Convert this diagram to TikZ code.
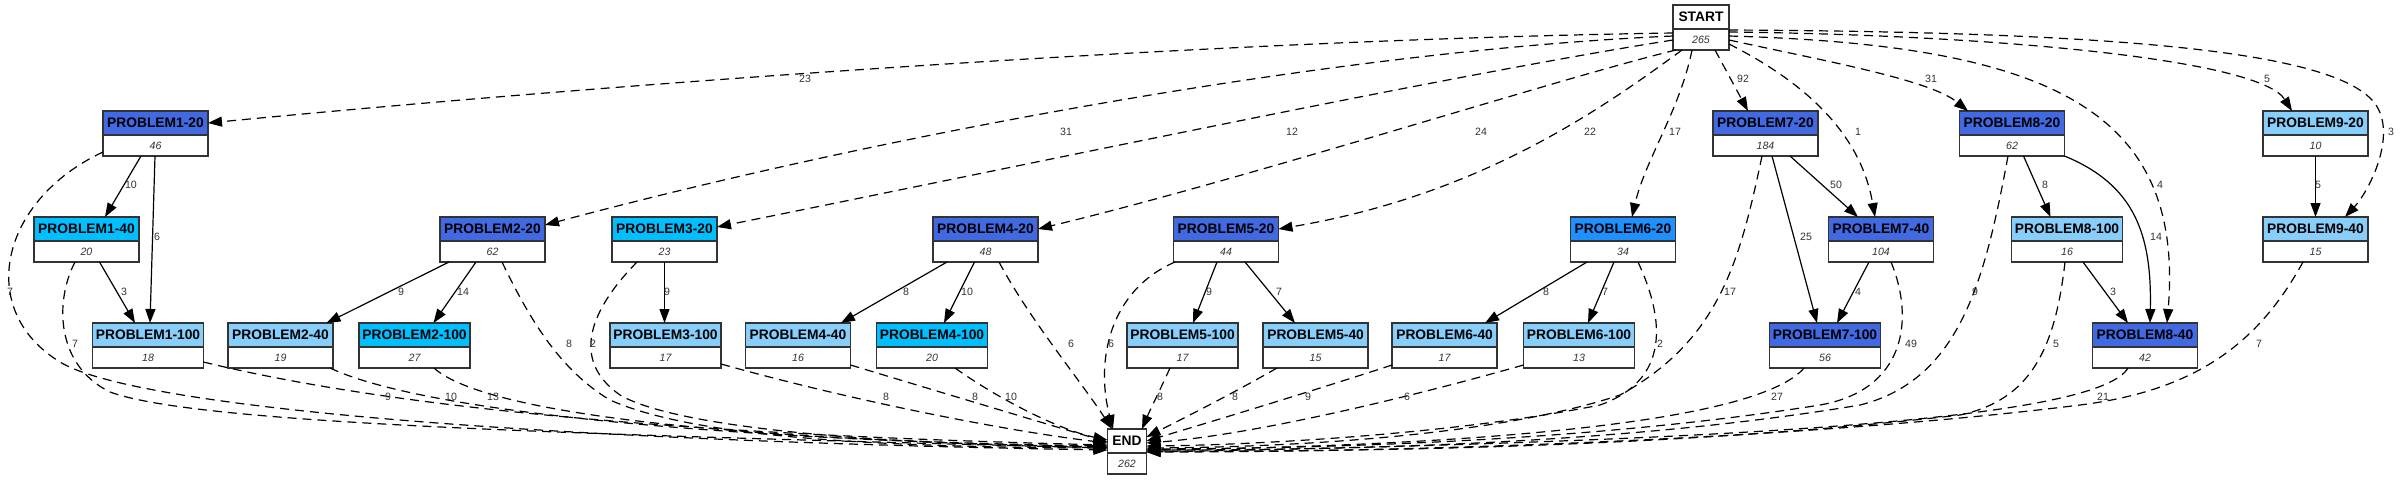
\documentclass[tikz,border=0pt]{standalone}
\usepackage{fontspec}
\setmainfont{Liberation Sans}
\usetikzlibrary{arrows.meta}
\definecolor{rb}{HTML}{4169E1}
\definecolor{dsb}{HTML}{00BFFF}
\definecolor{dgb}{HTML}{1E90FF}
\definecolor{lsb}{HTML}{87CEFA}
\newcommand{\mkbox}[7]{%
  \node[hdr, fill=#5, minimum width=#4, anchor=north] (#1) at (#2,#3) {#6};
  \node[val, minimum width=#4, anchor=north] (#1v) at (#1.south) {#7};
}
\begin{document}
\begin{tikzpicture}[x=0.5pt,y=-0.5pt,
  hdr/.style={draw=black!80, line width=0.75pt, outer sep=0pt, inner sep=0pt, minimum height=12pt,
    font=\bfseries\fontsize{6.9}{8}\selectfont, text height=4.9pt, text depth=0pt},
  val/.style={draw=black!80, line width=0.75pt, outer sep=0pt, inner sep=0pt, fill=white, minimum height=10.5pt,
    font=\itshape\fontsize{5.3}{6}\selectfont, text=black!80, text height=3.8pt, text depth=0pt},
  lbl/.style={font=\fontsize{5.3}{6}\selectfont, text=black!80, inner sep=0pt},
  sedge/.style={line width=0.6pt, -{Triangle[length=7pt,width=5pt]}},
  dedge/.style={sedge, dash pattern=on 4.5pt off 3pt}]
\useasboundingbox (0,0) rectangle (2400,479);
\fill[white] (0,0) rectangle (2400,479);

% boxes
\mkbox{s}{1701}{5}{28pt}{white}{START}{265}
\mkbox{e}{1127}{429}{19.5pt}{white}{END}{262}
\mkbox{p120}{155.5}{111}{52.5pt}{rb}{PROBLEM1-20}{46}
\mkbox{p720}{1765.5}{111}{52.5pt}{rb}{PROBLEM7-20}{184}
\mkbox{p820}{2012}{111}{52.5pt}{rb}{PROBLEM8-20}{62}
\mkbox{p920}{2315.5}{111}{52.5pt}{lsb}{PROBLEM9-20}{10}
\mkbox{p140}{86.5}{217}{52.5pt}{dsb}{PROBLEM1-40}{20}
\mkbox{p220}{492.5}{217}{52.5pt}{rb}{PROBLEM2-20}{62}
\mkbox{p320}{664.5}{217}{52.5pt}{dsb}{PROBLEM3-20}{23}
\mkbox{p420}{985.5}{217}{52.5pt}{rb}{PROBLEM4-20}{48}
\mkbox{p520}{1226}{217}{52.5pt}{rb}{PROBLEM5-20}{44}
\mkbox{p620}{1623}{217}{52.5pt}{dgb}{PROBLEM6-20}{34}
\mkbox{p740}{1881}{217}{52.5pt}{rb}{PROBLEM7-40}{104}
\mkbox{p8100}{2067}{217}{55.5pt}{lsb}{PROBLEM8-100}{16}
\mkbox{p940}{2315.5}{217}{52.5pt}{lsb}{PROBLEM9-40}{15}
\mkbox{p1100}{148}{323}{55.5pt}{lsb}{PROBLEM1-100}{18}
\mkbox{p240}{280.5}{323}{52.5pt}{lsb}{PROBLEM2-40}{19}
\mkbox{p2100}{414.5}{323}{55.5pt}{dsb}{PROBLEM2-100}{27}
\mkbox{p3100}{665.5}{323}{55.5pt}{lsb}{PROBLEM3-100}{17}
\mkbox{p440}{798}{323}{52.5pt}{lsb}{PROBLEM4-40}{16}
\mkbox{p4100}{932}{323}{55.5pt}{dsb}{PROBLEM4-100}{20}
\mkbox{p5100}{1182.6}{323}{55.5pt}{lsb}{PROBLEM5-100}{17}
\mkbox{p540}{1315.6}{323}{52.5pt}{lsb}{PROBLEM5-40}{15}
\mkbox{p640}{1444.6}{323}{52.5pt}{lsb}{PROBLEM6-40}{17}
\mkbox{p6100}{1579}{323}{55.5pt}{lsb}{PROBLEM6-100}{13}
\mkbox{p7100}{1825}{323}{55.5pt}{rb}{PROBLEM7-100}{56}
\mkbox{p840}{2145}{323}{52.5pt}{rb}{PROBLEM8-40}{42}

% START edges
\draw[dedge] (sv.west |- 0,33) .. controls (1200,40) and (600,85) .. (p120.east);
\draw[dedge] (sv.west |- 0,36) .. controls (1350,50) and (900,130) .. ([yshift=2pt]p220.east);
\draw[dedge] (sv.west |- 0,40) .. controls (1450,75) and (1050,160) .. ([yshift=1pt]p320.east);
\draw[dedge] (1676,0 |- sv.south) .. controls (1560,78) and (1250,178) .. (p420.east);
\draw[dedge] (1682,0 |- sv.south) .. controls (1600,110) and (1480,195) .. (p520.east);
\draw[dedge] (1692,0 |- sv.south) .. controls (1680,110) and (1645,160) .. (1632,0 |- p620.north);
\draw[dedge] (1715,0 |- sv.south) -- (1748,0 |- p720.north);
\draw[dedge] (sv.east |- 0,44) .. controls (1800,80) and (1860,130) .. (1875,0 |- p740.north);
\draw[dedge] (sv.east |- 0,40) .. controls (1830,62) and (1930,80) .. (1968,0 |- p820.north);
\draw[dedge] (sv.east |- 0,36) .. controls (2050,45) and (2185,110) .. (2167,0 |- p840.north);
\draw[dedge] (sv.east |- 0,32) .. controls (2000,35) and (2260,60) .. (2292,0 |- p920.north);
\draw[dedge] (sv.east |- 0,30) .. controls (2150,32) and (2330,55) .. (2372,100) .. controls (2400,130) and (2370,190) .. (2345,0 |- p940.north);

% solid edges
\draw[sedge] (141,0 |- p120v.south) -- (105,0 |- p140.north);
\draw[sedge] (155,0 |- p120v.south) -- (150,0 |- p1100.north);
\draw[sedge] (99.5,0 |- p140v.south) -- (135,0 |- p1100.north);
\draw[sedge] (449,0 |- p220v.south) -- (326.5,0 |- p240.north);
\draw[sedge] (476,0 |- p220v.south) -- (433.5,0 |- p2100.north);
\draw[sedge] (664.5,0 |- p320v.south) -- (664.5,0 |- p3100.north);
\draw[sedge] (947,0 |- p420v.south) -- (841,0 |- p440.north);
\draw[sedge] (974.5,0 |- p420v.south) -- (944,0 |- p4100.north);
\draw[sedge] (1217,0 |- p520v.south) -- (1193,0 |- p5100.north);
\draw[sedge] (1245,0 |- p520v.south) -- (1295,0 |- p540.north);
\draw[sedge] (1587,0 |- p620v.south) -- (1485,0 |- p640.north);
\draw[sedge] (1614,0 |- p620v.south) -- (1588,0 |- p6100.north);
\draw[sedge] (1790,0 |- p720v.south) -- (1858,0 |- p740.north);
\draw[sedge] (1772,0 |- p720v.south) -- (1817,0 |- p7100.north);
\draw[sedge] (1869,0 |- p740v.south) -- (1837,0 |- p7100.north);
\draw[sedge] (2023.5,0 |- p820v.south) -- (2050.5,0 |- p8100.north);
\draw[sedge] (p820v.south east) .. controls (2135,185) and (2152,235) .. (2150,0 |- p840.north);
\draw[sedge] (2083,0 |- p8100v.south) -- (2128,0 |- p840.north);
\draw[sedge] (p920v.south) -- (p940.north);

% edges to END
\draw[dedge] (p120v.west |- 0,152) .. controls (0,200) and (-25,310) .. (60,362) .. controls (130,405) and (500,440) .. (ev.west |- 0,450);
\draw[dedge] (75,0 |- p140v.south) .. controls (55,300) and (55,365) .. (110,392) .. controls (200,425) and (600,435) .. (ev.west |- 0,448);
\draw[dedge] (p1100v.east |- 0,362) .. controls (400,410) and (700,435) .. (ev.west |- 0,445);
\draw[dedge] (330,0 |- p240v.south) .. controls (430,415) and (750,440) .. (ev.west |- 0,447);
\draw[dedge] (434,0 |- p2100v.south) .. controls (480,410) and (700,440) .. (ev.west |- 0,446);
\draw[dedge] (502,0 |- p220v.south) .. controls (530,320) and (560,370) .. (610,400) .. controls (700,440) and (900,447) .. (ev.west |- 0,448);
\draw[dedge] (637,0 |- p320v.south) .. controls (590,310) and (570,360) .. (620,395) .. controls (680,430) and (900,445) .. (ev.west |- 0,447);
\draw[dedge] (p3100v.east |- 0,364) .. controls (850,400) and (1000,430) .. (ev.west |- 0,443);
\draw[dedge] (p440v.east |- 0,365) .. controls (950,395) and (1050,425) .. (ev.west |- 0,442);
\draw[dedge] (955,0 |- p4100v.south) .. controls (1000,400) and (1060,430) .. (ev.west |- 0,440);
\draw[dedge] (999,0 |- p420v.south) .. controls (1030,320) and (1080,380) .. (1112,0 |- e.north);
\draw[dedge] (1175,0 |- p520v.south) .. controls (1110,290) and (1095,360) .. (1113,0 |- e.north);
\draw[dedge] (1170,0 |- p5100v.south) .. controls (1160,390) and (1150,410) .. (1142,0 |- e.north);
\draw[dedge] (1277,0 |- p540v.south) .. controls (1230,395) and (1180,420) .. (ev.east |- 0,437);
\draw[dedge] (p640v.west |- 0,365) .. controls (1300,395) and (1200,425) .. (ev.east |- 0,441);
\draw[dedge] (p6100v.west |- 0,365) .. controls (1400,400) and (1250,435) .. (ev.east |- 0,443);
\draw[dedge] (1638,0 |- p620v.south) .. controls (1665,320) and (1670,380) .. (1600,405) .. controls (1450,435) and (1250,445) .. (ev.east |- 0,446);
\draw[dedge] (1762,0 |- p720v.south) .. controls (1740,260) and (1720,340) .. (1620,395) .. controls (1500,435) and (1300,447) .. (ev.east |- 0,448);
\draw[dedge] (1804,0 |- p7100v.south) .. controls (1760,420) and (1500,445) .. (ev.east |- 0,450);
\draw[dedge] (1891,0 |- p740v.south) .. controls (1915,320) and (1905,390) .. (1820,405) .. controls (1600,440) and (1350,448) .. (ev.east |- 0,449);
\draw[dedge] (2008,0 |- p820v.south) .. controls (1985,280) and (1960,380) .. (1860,405) .. controls (1650,440) and (1400,450) .. (ev.east |- 0,450);
\draw[dedge] (2065,0 |- p8100v.south) .. controls (2055,350) and (2030,400) .. (1960,415) .. controls (1700,445) and (1400,452) .. (ev.east |- 0,451);
\draw[dedge] (2128,0 |- p840v.south) .. controls (2100,415) and (1800,440) .. (ev.east |- 0,452);
\draw[dedge] (2303,0 |- p940v.south) .. controls (2260,340) and (2200,390) .. (2080,405) .. controls (1800,440) and (1400,452) .. (ev.east |- 0,452);

% labels
\node[lbl] (l01) at (805,79) {23};
\node[lbl] (l02) at (1066,132) {31};
\node[lbl] (l03) at (1292,132) {12};
\node[lbl] (l04) at (1481,132) {24};
\node[lbl] (l05) at (1590,132) {22};
\node[lbl] (l06) at (1675,132) {17};
\node[lbl] (l07) at (1743,79) {92};
\node[lbl] (l08) at (1858,132) {1};
\node[lbl] (l09) at (1931,79) {31};
\node[lbl] (l10) at (2160,185) {4};
\node[lbl] (l11) at (2267,79) {5};
\node[lbl] (l12) at (2391,132) {3};
\node[lbl] (l13) at (131,185) {10};
\node[lbl] (l14) at (157,237) {6};
\node[lbl] (l15) at (124,292) {3};
\node[lbl] (l16) at (401,292) {9};
\node[lbl] (l17) at (463,292) {14};
\node[lbl] (l18) at (667,292) {9};
\node[lbl] (l19) at (906,292) {8};
\node[lbl] (l20) at (967,292) {10};
\node[lbl] (l21) at (1209,292) {9};
\node[lbl] (l22) at (1279,292) {7};
\node[lbl] (l23) at (1546,292) {8};
\node[lbl] (l24) at (1605,292) {7};
\node[lbl] (l25) at (1836,185) {50};
\node[lbl] (l26) at (1806,237) {25};
\node[lbl] (l27) at (1858,292) {4};
\node[lbl] (l28) at (2045,185) {8};
\node[lbl] (l29) at (2156,237) {14};
\node[lbl] (l30) at (2113,292) {3};
\node[lbl] (l31) at (2318,185) {5};
\node[lbl] (l32) at (10,292) {7};
\node[lbl] (l33) at (75,344) {7};
\node[lbl] (l34) at (388,397) {9};
\node[lbl] (l35) at (451,397) {10};
\node[lbl] (l36) at (493,397) {13};
\node[lbl] (l37) at (569,344) {8};
\node[lbl] (l38) at (593,344) {2};
\node[lbl] (l39) at (886,397) {8};
\node[lbl] (l40) at (975,397) {8};
\node[lbl] (l41) at (1011,397) {10};
\node[lbl] (l42) at (1071,344) {6};
\node[lbl] (l43) at (1111,344) {6};
\node[lbl] (l44) at (1160,397) {8};
\node[lbl] (l45) at (1235,397) {8};
\node[lbl] (l46) at (1308,397) {9};
\node[lbl] (l47) at (1407,397) {6};
\node[lbl] (l48) at (1660,344) {2};
\node[lbl] (l49) at (1730,292) {17};
\node[lbl] (l50) at (1777,397) {27};
\node[lbl] (l51) at (1911,344) {49};
\node[lbl] (l52) at (1975,292) {9};
\node[lbl] (l53) at (2056,344) {5};
\node[lbl] (l54) at (2103,397) {21};
\node[lbl] (l55) at (2259,344) {7};
\end{tikzpicture}
\end{document}
